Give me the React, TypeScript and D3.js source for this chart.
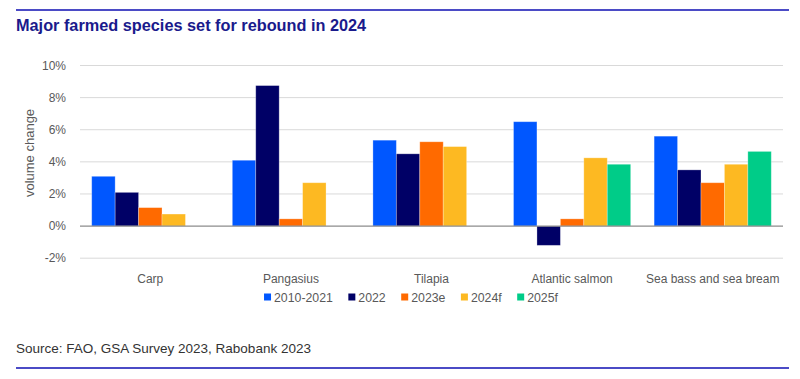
import React, { useEffect, useRef } from "react";
import * as d3 from "d3";

const categories = ["Carp", "Pangasius", "Tilapia", "Atlantic salmon", "Sea bass and sea bream"];
const seriesNames = ["2010-2021", "2022", "2023e", "2024f", "2025f"];
const s2010_2021 = [3.1, 4.1, 5.35, 6.5, 5.6];
const s2022 = [2.1, 8.75, 4.5, -1.2, 3.5];
const s2023e = [1.15, 0.45, 5.25, 0.45, 2.7];
const s2024f = [0.75, 2.7, 4.95, 4.25, 3.85];
const s2025f = [null, null, null, 3.85, 4.65];
const seriesValues = [s2010_2021, s2022, s2023e, s2024f, s2025f];
const colors = ["#0057FF", "#000066", "#FF6A00", "#FDB922", "#00CC88"];
const yTicks = [-2, 0, 2, 4, 6, 8, 10];

const W = 800;
const H = 379;

export default function App() {
  const ref = useRef<SVGSVGElement>(null);

  useEffect(() => {
    const svg = d3.select(ref.current);
    svg.selectAll("*").remove();
    const font = "'Liberation Sans', Arial, sans-serif";

    const x0 = d3.scaleBand<string>().domain(categories).range([80, 783]).paddingInner(1 / 6).paddingOuter(1 / 12);
    const x1 = d3.scaleBand<string>().domain(seriesNames).range([0, x0.bandwidth()]);
    const y = d3.scaleLinear().domain([-2, 10]).range([258.2, 65.5]);

    // frame lines
    svg.append("line").attr("x1", 16).attr("x2", 789).attr("y1", 10).attr("y2", 10)
      .attr("stroke", "#4B4BC6").attr("stroke-width", 2);
    svg.append("line").attr("x1", 16).attr("x2", 789).attr("y1", 368).attr("y2", 368)
      .attr("stroke", "#4B4BC6").attr("stroke-width", 2);

    // title
    svg.append("text").attr("x", 16).attr("y", 31).text("Major farmed species set for rebound in 2024")
      .attr("font-family", font).attr("font-weight", 700).attr("font-size", 16.3).attr("fill", "#1A1A8C");

    // gridlines
    svg.append("g").selectAll("line").data(yTicks.filter((t) => t !== 0)).join("line")
      .attr("x1", 80).attr("x2", 783)
      .attr("y1", (d) => y(d)).attr("y2", (d) => y(d))
      .attr("stroke", "#D9D9D9").attr("stroke-width", 1);

    // tick labels
    svg.append("g").selectAll("text").data(yTicks).join("text")
      .attr("x", 66).attr("y", (d) => y(d)).attr("dy", "0.35em").attr("text-anchor", "end")
      .attr("font-family", font).attr("font-size", 12).attr("fill", "#595959")
      .text((d) => `${d}%`);

    // y title
    svg.append("text").attr("transform", `translate(33.5,153) rotate(-90)`)
      .attr("text-anchor", "middle").attr("font-family", font).attr("font-size", 13).attr("fill", "#595959")
      .text("volume change");

    // bars
    const g = svg.append("g");
    categories.forEach((c, ci) => {
      seriesNames.forEach((s, si) => {
        const v = seriesValues[si][ci];
        if (v === null || v === undefined) return;
        g.append("rect")
          .attr("x", (x0(c) as number) + (x1(s) as number))
          .attr("width", x1.bandwidth())
          .attr("y", y(Math.max(0, v)))
          .attr("height", Math.abs(y(v) - y(0)))
          .attr("fill", colors[si])
          .attr("stroke", "#ffffff").attr("stroke-opacity", 0.35).attr("stroke-width", 0.8);
      });
    });

    // zero line
    svg.append("line").attr("x1", 80).attr("x2", 783).attr("y1", y(0)).attr("y2", y(0))
      .attr("stroke", "#8C8C8C").attr("stroke-width", 1.2);

    // category labels
    svg.append("g").selectAll("text").data(categories).join("text")
      .attr("x", (d) => (x0(d) as number) + x0.bandwidth() / 2).attr("y", 283)
      .attr("text-anchor", "middle").attr("font-family", font).attr("font-size", 12).attr("fill", "#595959")
      .text((d) => d);

    // legend
    const lg = svg.append("g");
    let cx = 0;
    seriesNames.forEach((s, i) => {
      lg.append("rect").attr("x", cx).attr("y", 293.5).attr("width", 7).attr("height", 7).attr("fill", colors[i]);
      const t = lg.append("text").attr("x", cx + 10).attr("y", 301.5).attr("font-family", font)
        .attr("font-size", 12.3).attr("fill", "#595959").text(s);
      const w = (t.node() as SVGTextElement).getComputedTextLength();
      cx += 10 + w + 15.5;
    });
    const total = cx - 15.5;
    lg.attr("transform", `translate(${411 - total / 2},0)`);

    // source
    svg.append("text").attr("x", 16).attr("y", 353).attr("font-family", font).attr("font-size", 13.5)
      .attr("fill", "#333333").text("Source: FAO, GSA Survey 2023, Rabobank 2023");
  }, []);

  return (
    <svg ref={ref} width={W} height={H} style={{ position: "absolute", left: 0, top: 0, background: "#fff" }} />
  );
}
